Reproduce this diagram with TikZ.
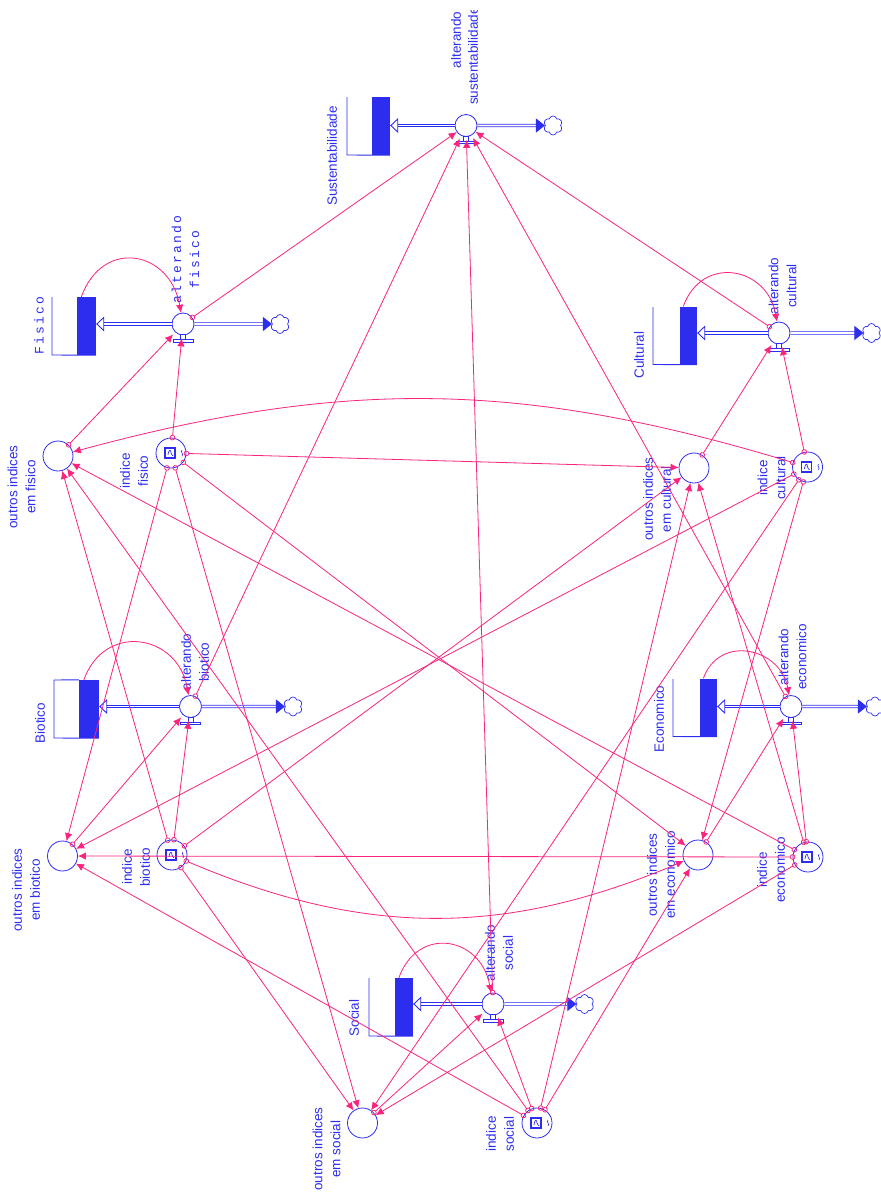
\documentclass[tikz,border=0pt]{standalone}
\usepackage{fontspec}
\setmainfont{Liberation Sans}
\setmonofont[LetterSpace=17]{Liberation Mono}
\usepackage{tikz}
\usetikzlibrary{arrows.meta,shapes}
\definecolor{azul}{RGB}{45,45,240}
\definecolor{rosa}{RGB}{250,35,125}
\tikzset{
    rotulo/.style={rotate=90,align=center,text=azul,inner sep=0pt,font=\fontsize{13.5}{18}\selectfont},
    rotulomono/.style={rotulo,font=\fontsize{13}{18}\selectfont\ttfamily},
    indice/.style={circle,draw=azul,line width=.8pt,minimum size=30pt,inner sep=0pt},
    valvula/.style={circle,draw=azul,line width=.8pt,fill=white,minimum size=22pt,inner sep=0pt},
    estoque/.style={rectangle,fill=azul,inner sep=0pt,minimum height=58pt},
    contorno/.style={draw=azul,line width=.9pt},
    nuvem/.style={cloud,cloud puffs=6,aspect=1,draw=azul,line width=.7pt,minimum width=19pt,minimum height=19pt,inner sep=0pt},
    fluxo/.style={draw=azul,line width=.9pt,double=white,double distance=1.6pt},
    entra/.style={fluxo,arrows={-Triangle[open,length=8pt,width=15pt,fill=white]}},
    sai/.style={fluxo,arrows={-Triangle[length=9pt,width=14pt,fill=azul]}},
    ligacao/.style={draw=rosa,line width=.8pt,shorten <=-2.7pt,arrows={Circle[open,length=5.5pt,width=5.5pt]-Latex[length=8pt,width=7.5pt]}},
    ligacaob/.style={ligacao,shorten >=3pt},
    laco/.style={draw=rosa,line width=.8pt,arrows={-Latex[length=8pt,width=7.5pt]}},
    torneira/.pic={
        \draw[azul,line width=.8pt,fill=white] (-2.5,10.5) rectangle (2.5,15.5);
        \draw[azul,line width=.8pt,fill=white] (-10,15.5) rectangle (10,18);
    },
    icone/.pic={
        \draw[azul,line width=1.1pt] (-6,-5) rectangle (4,5);
        \draw[azul,line width=.7pt] (-3,2) .. controls (-2,-5) and (0,-3) .. (0,0) .. controls (0,2) and (2,2) .. (2,3);
        \draw[azul,line width=.6pt] (11,-3) .. controls (9,-1) and (13,1) .. (11,3);
    }
}

\begin{document}
\begin{tikzpicture}[x=1pt,y=-1pt]
    \useasboundingbox (0,0) rectangle (881,1192);

    \node[estoque,minimum width=18pt] (ssus) at (381,126) {};
    \node[estoque,minimum width=19pt] (sfis) at (86.5,326) {};
    \node[estoque,minimum width=17pt] (scul) at (688.5,335.5) {};
    \node[estoque,minimum width=20pt] (sbio) at (89,709) {};
    \node[estoque,minimum width=17pt] (seco) at (708.5,707.5) {};
    \node[estoque,minimum width=18pt] (ssoc) at (404,1007) {};
    \draw[contorno] (347,97) -- (347,155) -- (ssus.south east);
    \draw[contorno] (52,297) -- (52,355) -- (sfis.south east);
    \draw[contorno] (653,307) -- (653,364.5) -- (scul.south east);
    \draw[contorno] (sbio.north west) -- (54,680) -- (54,738) -- (sbio.south east);
    \draw[contorno] (673,679) -- (673,736.5) -- (seco.south east);
    \draw[contorno] (369,978) -- (369,1036) -- (ssoc.south east);

    \node[valvula] (vsus) at (466,125.5) {};
    \node[valvula] (vfis) at (183,324) {};
    \node[valvula] (vcul) at (779,333) {};
    \node[valvula] (vbio) at (190.5,706.5) {};
    \node[valvula] (veco) at (791,706.5) {};
    \node[valvula] (vsoc) at (493,1004) {};
    \pic at (vsus) {torneira};
    \pic at (vfis) {torneira};
    \pic at (vcul) {torneira};
    \pic at (vbio) {torneira};
    \pic at (veco) {torneira};
    \pic at (vsoc) {torneira};

    \node[nuvem] (nsus) at (553,125.5) {};
    \node[nuvem] (nfis) at (280,324) {};
    \node[nuvem] (ncul) at (871.5,333) {};
    \node[nuvem] (nbio) at (293,706.5) {};
    \node[nuvem] (neco) at (875,706.5) {};
    \node[nuvem] (nsoc) at (584.5,1004) {};

    \draw[entra] (vsus) -- (vsus -| ssus.east);
    \draw[sai] (vsus) -- (nsus);
    \draw[entra] (vfis) -- (vfis -| sfis.east);
    \draw[sai] (vfis) -- (nfis);
    \draw[entra] (vcul) -- (vcul -| scul.east);
    \draw[sai] (vcul) -- (ncul);
    \draw[entra] (vbio) -- (vbio -| sbio.east);
    \draw[sai] (vbio) -- (nbio);
    \draw[entra] (veco) -- (veco -| seco.east);
    \draw[sai] (veco) -- (neco);
    \draw[entra] (vsoc) -- (vsoc -| ssoc.east);
    \draw[sai] (vsoc) -- (nsoc);

    \node[indice] (ifis) at (171,453) {};
    \node[indice] (icul) at (807.5,467) {};
    \node[indice] (ibio) at (172,855) {};
    \node[indice] (ieco) at (808,857) {};
    \node[indice] (isoc) at (537,1123) {};
    \pic at (ifis) {icone};
    \pic at (icul) {icone};
    \pic at (ibio) {icone};
    \pic at (ieco) {icone};
    \pic at (isoc) {icone};
    \node[indice] (ofis) at (58,456) {};
    \node[indice] (ocul) at (694,468) {};
    \node[indice] (obio) at (62.5,856) {};
    \node[indice] (oeco) at (698,855) {};
    \node[indice] (osoc) at (362.5,1123) {};

    \node[rotulo] (tsus) at (332,156) {Sustentabilidade};
    \node[rotulo] (talt) at (456,40) {alterando};
    \begin{scope}
        \clip (440,10) rectangle (490,110);
        \node[rotulo,anchor=west] (tvsus) at (473,105) {sustentabilidade};
    \end{scope}
    \node[rotulomono] (tfis) at (39,326) {Fisico};
    \node[rotulomono] (tvfis) at (185.5,260) {alterando\\fisico};
    \node[rotulo] (tcul) at (639,355) {Cultural};
    \node[rotulo] (tvcul) at (782.5,286) {alterando\\cultural};
    \node[rotulo] (tbio) at (40,723) {Biotico};
    \node[rotulo] (tvbio) at (195,662) {alterando\\biotico};
    \node[rotulo] (teco) at (659,719) {Economico};
    \node[rotulo] (tveco) at (792.5,657) {alterando\\economico};
    \node[rotulo] (tsoc) at (354,1018) {Social};
    \node[rotulo] (tvsoc) at (499,953) {alterando\\social};
    \node[rotulo] (tifis) at (134,471) {indice\\fisico};
    \node[rotulo] (tofis) at (21.5,487) {outros indices\\em fisico};
    \node[rotulo] (ticul) at (771.5,478) {indice\\cultural};
    \node[rotulo] (tocul) at (657,499) {outros indices\\em cultural};
    \node[rotulo] (tibio) at (136,867) {indice\\biotico};
    \node[rotulo] (tobio) at (26,890) {outros indices\\em biotico};
    \node[rotulo] (tieco) at (771,870) {indice\\economico};
    \node[rotulo] (toeco) at (661,875) {outros indices\\em economico};
    \node[rotulo] (tisoc) at (500,1134) {indice\\social};
    \node[rotulo] (tosoc) at (326.5,1149) {outros indices\\em social};

    \draw[laco] (sfis.100) to[out=70,in=100,looseness=1.6] (vfis);
    \draw[laco] (scul.100) to[out=70,in=100,looseness=1.5] (vcul);
    \draw[laco] (sbio.100) to[out=70,in=100,looseness=1.5] (vbio);
    \draw[laco] (seco.100) to[out=70,in=100,looseness=1.4] (veco);
    \draw[laco] (ssoc.100) to[out=70,in=100,looseness=1.55] (vsoc);

    \draw[ligacao] (vfis) -- (vsus);
    \draw[ligacaob] (vbio) -- (vsus);
    \draw[ligacaob] (vsoc) -- (vsus);
    \draw[ligacaob] (veco) -- (vsus);
    \draw[ligacao] (vcul) -- (vsus);

    \draw[ligacaob] (ifis) -- (vfis);
    \draw[ligacaob] (ofis) -- (vfis);
    \draw[ligacaob] (icul) -- (vcul);
    \draw[ligacaob] (ocul) -- (vcul);
    \draw[ligacaob] (ibio) -- (vbio);
    \draw[ligacaob] (obio) -- (vbio);
    \draw[ligacaob] (ieco) -- (veco);
    \draw[ligacaob] (oeco) -- (veco);
    \draw[ligacaob] (isoc) -- (vsoc);
    \draw[ligacaob] (osoc) -- (vsoc);

    \draw[ligacao] (icul) to[bend right=16] (ofis);
    \draw[ligacao] (ibio) -- (ofis);
    \draw[ligacao] (ieco) -- (ofis);
    \draw[ligacao] (isoc) -- (ofis);
    \draw[ligacao] (ifis) -- (ocul);
    \draw[ligacao] (ibio) -- (ocul);
    \draw[ligacao] (ieco) -- (ocul);
    \draw[ligacao] (isoc) -- (ocul);
    \draw[ligacao] (ifis) -- (obio);
    \draw[ligacao] (icul) -- (obio);
    \draw[ligacao] (ieco) -- (obio);
    \draw[ligacao] (isoc) -- (obio);
    \draw[ligacao] (ifis) -- (oeco);
    \draw[ligacao] (icul) -- (oeco);
    \draw[ligacao] (ibio) to[bend right=23] (oeco);
    \draw[ligacao] (isoc) -- (oeco);
    \draw[ligacao] (ifis) -- (osoc);
    \draw[ligacao] (icul) -- (osoc);
    \draw[ligacao] (ibio) -- (osoc);
    \draw[ligacao] (ieco) -- (osoc);
\end{tikzpicture}
\end{document}
